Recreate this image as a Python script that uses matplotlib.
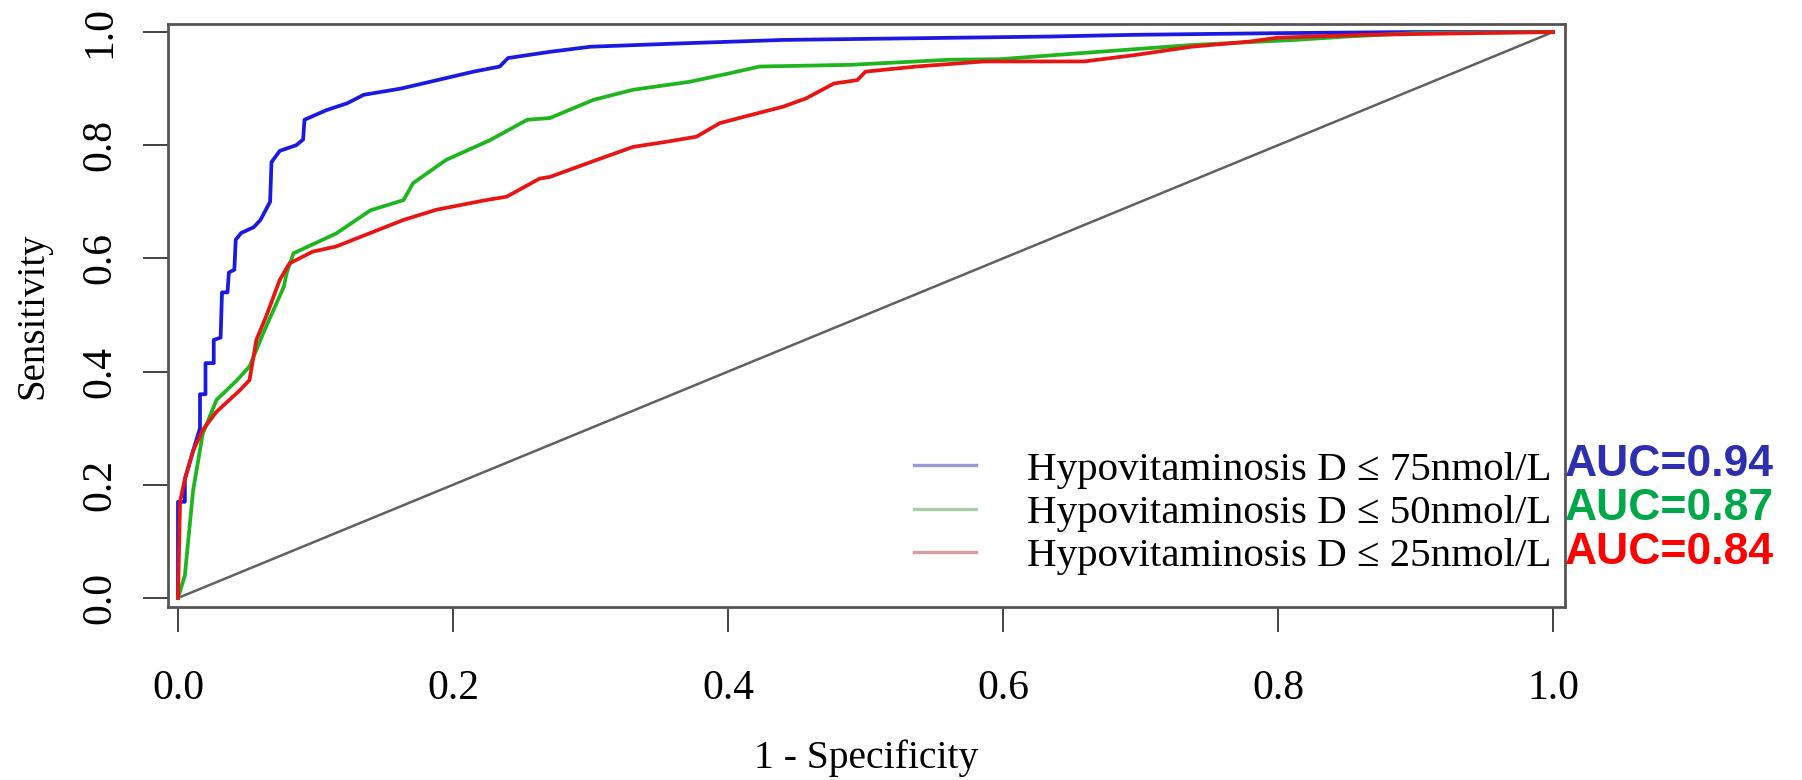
import matplotlib
matplotlib.use("Agg")
import matplotlib.pyplot as plt
from matplotlib.lines import Line2D

# ROC points (1 - specificity, sensitivity)
fpr_75 = [0, 0, 0.005, 0.005, 0.011, 0.016, 0.016, 0.020, 0.020, 0.026, 0.026, 0.031,
          0.032, 0.036, 0.037, 0.041, 0.042, 0.046, 0.055, 0.060, 0.065, 0.067, 0.068,
          0.074, 0.086, 0.091, 0.092, 0.108, 0.123, 0.135, 0.162, 0.178, 0.215, 0.234,
          0.240, 0.2705, 0.300, 0.367, 0.440, 0.634, 0.695, 0.800, 0.900, 1.0]
tpr_75 = [0, 0.17, 0.17, 0.21, 0.26, 0.30, 0.36, 0.36, 0.415, 0.415, 0.456, 0.46,
          0.54, 0.54, 0.575, 0.58, 0.633, 0.645, 0.655, 0.668, 0.691, 0.70, 0.77,
          0.79, 0.80, 0.81, 0.845, 0.862, 0.874, 0.889, 0.900, 0.909, 0.930, 0.939,
          0.954, 0.965, 0.974, 0.980, 0.986, 0.992, 0.995, 0.998, 1.0, 1.0]

fpr_50 = [0, 0.005, 0.011, 0.018, 0.023, 0.028, 0.043, 0.052, 0.057, 0.062, 0.077,
          0.079, 0.084, 0.115, 0.140, 0.164, 0.171, 0.195, 0.227, 0.254, 0.2705, 0.302,
          0.331, 0.372, 0.401, 0.423, 0.489, 0.561, 0.598, 0.653, 0.737, 0.812, 0.850,
          0.900, 1.0]
tpr_50 = [0, 0.04, 0.19, 0.29, 0.32, 0.35, 0.385, 0.409, 0.438, 0.468, 0.55,
          0.574, 0.609, 0.644, 0.685, 0.703, 0.733, 0.774, 0.809, 0.845, 0.848, 0.880,
          0.898, 0.912, 0.927, 0.939, 0.942, 0.951, 0.952, 0.962, 0.977, 0.986, 0.992,
          0.998, 1.0]

fpr_25 = [0, 0.0015, 0.005, 0.011, 0.018, 0.028, 0.045, 0.052, 0.057, 0.0645, 0.074,
          0.081, 0.098, 0.115, 0.164, 0.188, 0.224, 0.239, 0.263, 0.2705, 0.3045, 0.331,
          0.355, 0.377, 0.394, 0.416, 0.440, 0.457, 0.477, 0.494, 0.500, 0.537, 0.586,
          0.659, 0.695, 0.737, 0.779, 0.800, 0.862, 1.0]
tpr_25 = [0, 0.17, 0.21, 0.26, 0.297, 0.329, 0.367, 0.385, 0.456, 0.50, 0.562,
          0.591, 0.612, 0.621, 0.668, 0.686, 0.703, 0.709, 0.741, 0.744, 0.774, 0.797,
          0.806, 0.815, 0.839, 0.853, 0.868, 0.883, 0.909, 0.915, 0.930, 0.939, 0.948,
          0.948, 0.959, 0.974, 0.983, 0.990, 0.995, 1.0]

labels = ["Hypovitaminosis D \u2264 75nmol/L",
          "Hypovitaminosis D \u2264 50nmol/L",
          "Hypovitaminosis D \u2264 25nmol/L"]
auc_text = ["AUC=0.94", "AUC=0.87", "AUC=0.84"]
line_colors = ["#1a1ae0", "#1fb51f", "#e81515"]
legend_colors = ["#9a9ad8", "#a8d0a8", "#d89a9a"]
auc_colors = ["#2e2eb0", "#00a84a", "#ff0000"]
ticks = [0.0, 0.2, 0.4, 0.6, 0.8, 1.0]
tick_labels = ["0.0", "0.2", "0.4", "0.6", "0.8", "1.0"]

serif = "Liberation Serif"

fig = plt.figure(figsize=(18.02, 7.80), dpi=100)
ax = fig.add_axes([0.0932, 0.2218, 0.8685 - 0.0932, 0.9692 - 0.2218])

ax.plot([0, 1], [0, 1], color="#606060", lw=1.8)
ax.plot(fpr_75, tpr_75, color=line_colors[0], lw=2.7)
ax.plot(fpr_50, tpr_50, color=line_colors[1], lw=2.7)
ax.plot(fpr_25, tpr_25, color=line_colors[2], lw=2.7)

ax.set_xlim(-0.0073, 1.0087)
ax.set_ylim(-0.0159, 1.0141)

for s in ax.spines.values():
    s.set_color("#555555")
    s.set_linewidth(2.0)

ax.set_xticks(ticks)
ax.set_xticklabels(tick_labels, fontfamily=serif, fontsize=30)
ax.set_yticks(ticks)
ax.set_yticklabels(tick_labels, fontfamily=serif, fontsize=30, rotation=90, va="center")
ax.tick_params(axis="x", length=18, width=1.3, color="#333333", pad=27)
ax.tick_params(axis="y", length=18, width=1.3, color="#333333", pad=17)

ax.set_xlabel("1 - Specificity", fontfamily=serif, fontsize=28.5)
ax.xaxis.set_label_coords(0.5, -0.259)
ax.xaxis.label.set_va("center")
ax.set_ylabel("Sensitivity", fontfamily=serif, fontsize=28)
ax.yaxis.set_label_coords(-0.0966, 0.5)
ax.yaxis.label.set_va("center")

handles = [Line2D([0], [0], color=c, lw=2.4) for c in legend_colors]
leg = ax.legend(handles, labels, loc="center left",
                bbox_to_anchor=(914 / 1802, 1 - 513 / 780),
                bbox_transform=fig.transFigure, frameon=False,
                prop={"family": serif, "size": 29.5},
                handlelength=1.52, handletextpad=1.23, labelspacing=0.13,
                borderpad=0, borderaxespad=0)

rows_y = [465, 509, 553]
for txt, col, yy in zip(auc_text, auc_colors, rows_y):
    fig.text(1565 / 1802, 1 - yy / 780, txt, color=col, fontsize=32,
             fontweight="bold", family=["Liberation Sans", "DejaVu Sans"],
             ha="left", va="center")

fig.savefig("out.png", dpi=100)
